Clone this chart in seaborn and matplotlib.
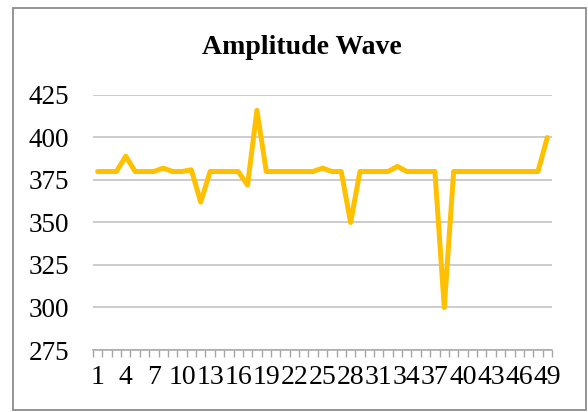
import numpy as np
import pandas as pd
import matplotlib
matplotlib.use("Agg")
import matplotlib.pyplot as plt
import matplotlib.patches as mpatches
import seaborn as sns

categories = list(range(1, 50))
amplitude = [380, 380, 380, 389, 380, 380, 380, 382, 380, 380,
             381, 362, 380, 380, 380, 380, 372, 416, 380, 380,
             380, 380, 380, 380, 382, 380, 380, 350, 380, 380,
             380, 380, 383, 380, 380, 380, 380, 300, 380, 380,
             380, 380, 380, 380, 380, 380, 380, 380, 400]
y_ticks = [275, 300, 325, 350, 375, 400, 425]
x_label_every = 3
title = "Amplitude Wave"

sns.set_theme(style="white")
plt.rcParams['font.family'] = ['Liberation Serif', 'DejaVu Serif']
plt.rcParams['text.color'] = 'black'
plt.rcParams['xtick.color'] = 'black'
plt.rcParams['ytick.color'] = 'black'

df = pd.DataFrame({"pos": np.arange(len(categories)), "cat": categories, "amp": amplitude})

W, H = 588, 412
fig = plt.figure(figsize=(W / 100, H / 100), dpi=100)
ax = fig.add_axes([93 / W, (H - 350) / H, (552 - 93) / W, (350 - 95) / H])

sns.lineplot(data=df, x="pos", y="amp", ax=ax, color="#FFC000", linewidth=3.6,
             solid_joinstyle="round", solid_capstyle="round")

ax.set_xlim(-0.5, len(categories) - 0.5)
ax.set_ylim(y_ticks[0], y_ticks[-1])
ax.set_yticks(y_ticks)
ax.set_yticklabels([str(v) for v in y_ticks], fontsize=19.5, color="black")
ax.tick_params(axis="y", length=0, pad=17)

label_pos = df["pos"].values[::x_label_every]
ax.set_xticks(label_pos)
ax.set_xticklabels([str(c) for c in df["cat"].values[::x_label_every]], fontsize=20, color="black")
ax.set_xticks(np.arange(-0.5, len(categories)), minor=True)
ax.tick_params(axis="x", which="major", length=0, pad=11)
ax.tick_params(axis="x", which="minor", length=5, width=1, color="#A6A6A6", direction="out", bottom=True)

ax.set_xlabel("")
ax.set_ylabel("")
ax.yaxis.grid(True, color="#BFBFBF", linewidth=1.1)
ax.xaxis.grid(False)
for s in ["top", "right", "left"]:
    ax.spines[s].set_visible(False)
ax.spines["bottom"].set_color("#A6A6A6")
ax.spines["bottom"].set_linewidth(1.1)

fig.text(302 / W, 1 - 47 / H, title, ha="center", va="center", fontsize=20,
         fontweight="bold", color="black")

rect = mpatches.Rectangle((12.5 / W, (H - 410) / H), (586 - 12.5) / W, (410 - 8) / H,
                          transform=fig.transFigure, fill=False, edgecolor="#8C8C8C", linewidth=1.3)
fig.patches.append(rect)

fig.savefig("out.png", dpi=100)
